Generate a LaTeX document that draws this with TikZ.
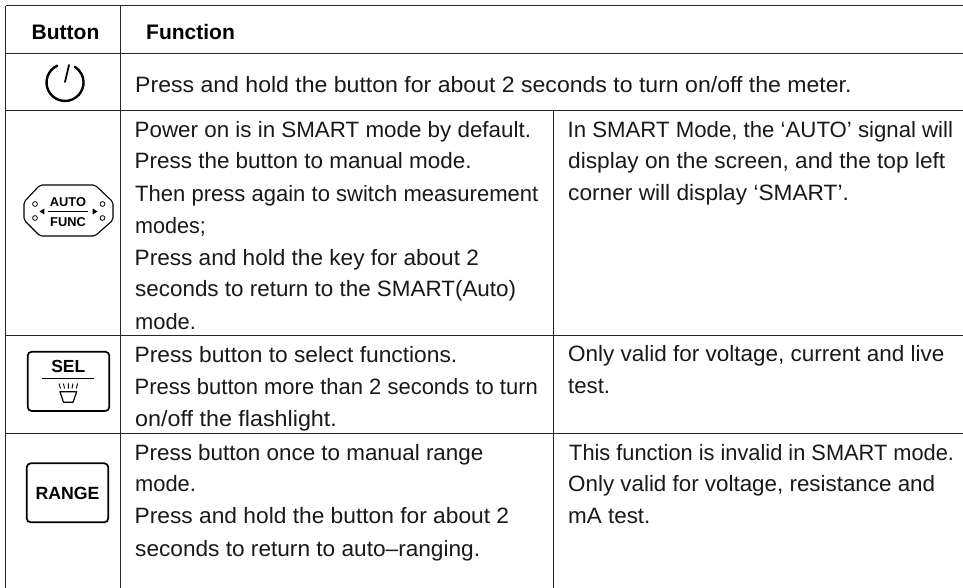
\documentclass[tikz,border=0pt]{standalone}
\usepackage{fontspec}
\setmainfont{Liberation Sans}
\newcommand{\fitw}[2]{\scalebox{#1}[1]{#2}}
\tikzset{
  rule/.style={line width=1pt,draw=black!85},
  txt/.style={anchor=base west,inner sep=0pt,font=\fontsize{22.2}{22.2}\selectfont,text=black!90},
  head/.style={anchor=base west,inner sep=0pt,font=\fontsize{21}{21}\bfseries\selectfont},
  key/.style={line width=1.7pt,draw=black,rounded corners=4pt},
  keylabel/.style={inner sep=0pt,anchor=base,text=black},
}
\begin{document}
\begin{tikzpicture}[x=1pt,y=-1pt]
\useasboundingbox (0,0) rectangle (963,588);
\fill[white] (0,0) rectangle (963,588);
% table rules
\draw[rule] (5.7,5.7) -- (963,5.7) (5.7,53.7) -- (963,53.7) (5.7,110.5) -- (963,110.5) (5.7,335.5) -- (963,335.5) (5.7,433.3) -- (963,433.3);
\draw[rule] (5.7,5.7) -- (5.7,588) (120.3,5.7) -- (120.3,588) (553.4,110.5) -- (553.4,588);
% header
\node[head] (h1) at (31.5,40) {Button};
\node[head] (h2) at (146,40) {Function};
% power symbol
\draw[line width=2.4pt,line cap=round] (57.2,65.7) arc[start angle=-115,delta angle=-303,radius=18.5];
\draw[line width=1.8pt,line cap=round] (69,65) -- (65,82);
\node[txt] (r1) at (135,92.3) {\fitw{1.039}{Press and hold the button for about 2 seconds to turn on/off the meter.}};
% AUTO/FUNC key
\draw[line width=1.1pt,rounded corners=2pt] (40,185) -- (95,185) -- (113,202) -- (113,220) -- (95,236) -- (40,236) -- (24,220) -- (24,202) -- cycle;
\node[keylabel,font=\fontsize{12.8}{12.8}\bfseries\selectfont] (auto) at (68,206) {AUTO};
\node[keylabel,font=\fontsize{12.8}{12.8}\bfseries\selectfont] (func) at (68,226) {FUNC};
\draw[line width=1pt] (48,211.5) -- (88,211.5);
\fill (39.5,211.5) -- (44.3,208.5) -- (44.3,214.5) -- cycle;
\fill (97.5,211.5) -- (92.7,208.5) -- (92.7,214.5) -- cycle;
\foreach \cx/\cy in {35/204,35/218,102.5/204,102.5/218} \draw[line width=0.8pt] (\cx,\cy) circle[radius=2.4];
\node[txt] (a1) at (134.5,137.3) {\fitw{1.008}{Power on is in SMART mode by default.}};
\node[txt] (a2) at (134.5,169) {\fitw{1.011}{Press the button to manual mode.}};
\node[txt] (a3) at (135,201.5) {\fitw{0.993}{Then press again to switch measurement}};
\node[txt] (a4) at (135,233.3) {\fitw{0.97}{modes;}};
\node[txt] (a5) at (134.5,265) {\fitw{1.018}{Press and hold the key for about 2}};
\node[txt] (a6) at (135,296.7) {\fitw{1.01}{seconds to return to the SMART(Auto)}};
\node[txt] (a7) at (135,329.3) {\fitw{0.985}{mode.}};
\node[txt] (b1) at (567.5,137.3) {In SMART Mode, the ‘AUTO’ signal will};
\node[txt] (b2) at (568,169) {\fitw{1.022}{display on the screen, and the top left}};
\node[txt] (b3) at (568,200.8) {\fitw{1.022}{corner will display ‘SMART’.}};
% SEL key
\draw[key] (27.7,351.7) rectangle (109.3,411);
\node[keylabel,font=\fontsize{17.5}{17.5}\bfseries\selectfont] (sel) at (68.3,372) {SEL};
\draw[line width=1.1pt] (42.3,378.3) -- (94,378.3);
\draw[line width=1.2pt,line join=round] (60,391.7) -- (76.7,391.7) -- (73,402.3) -- (63.5,402.3) -- cycle;
\draw[line width=0.9pt] (59,383.5) -- (60.5,388.5) (63.5,383.5) -- (64.5,388.5) (68.3,383.3) -- (68.3,388.5) (73,383.5) -- (72,388.5) (77.7,383.5) -- (76.2,388.5);
\node[txt] (c1) at (134.5,362.3) {\fitw{1.025}{Press button to select functions.}};
\node[txt] (c2) at (134.5,394.3) {\fitw{0.99}{Press button more than 2 seconds to turn}};
\node[txt] (c3) at (135,426.3) {\fitw{1.05}{on/off the flashlight.}};
\node[txt] (d1) at (568,361.7) {\fitw{1.013}{Only valid for voltage, current and live}};
\node[txt] (d2) at (568,393.3) {test.};
% RANGE key
\draw[key] (26.7,463.3) rectangle (108.3,522.3);
\node[keylabel,font=\fontsize{17.7}{17.7}\bfseries\selectfont] (range) at (67.5,499) {RANGE};
\node[txt] (e1) at (134.5,460.7) {\fitw{1.009}{Press button once to manual range}};
\node[txt] (e2) at (135,491.7) {\fitw{0.985}{mode.}};
\node[txt] (e3) at (134.5,523.7) {\fitw{1.025}{Press and hold the button for about 2}};
\node[txt] (e4) at (135,556) {\fitw{1.02}{seconds to return to auto–ranging.}};
\node[txt] (f1) at (569,460.5) {\fitw{0.982}{This function is invalid in SMART mode.}};
\node[txt] (f2) at (568,491.7) {\fitw{1.008}{Only valid for voltage, resistance and}};
\node[txt] (f3) at (568,523.5) {\fitw{1.01}{mA test.}};
\end{tikzpicture}
\end{document}
